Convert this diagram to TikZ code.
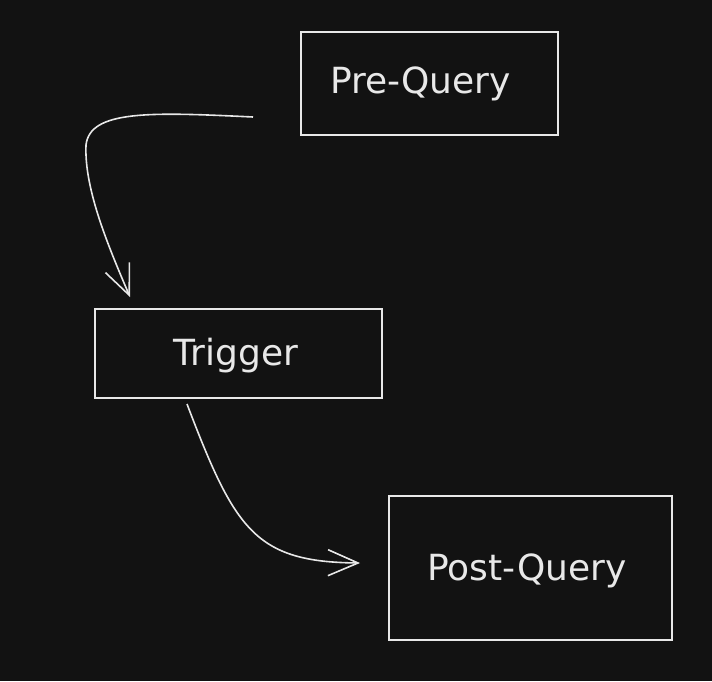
\documentclass[tikz,border=0pt]{standalone}
\usepackage{fontspec}
\newfontfamily\handfont{DejaVu Sans}
\usetikzlibrary{arrows.meta}
\definecolor{bg}{HTML}{121212}
\definecolor{ink}{HTML}{E8E8E8}
\tikzset{
  box/.style={draw=ink, line width=1.7pt, rectangle, inner sep=0pt},
  lbl/.style={text=ink, font=\handfont\fontsize{36}{42}\selectfont, anchor=base, inner sep=0pt},
  conn/.style={draw=ink, line width=1.6pt, -{Straight Barb[length=30pt,width=26pt,line width=1.6pt]}}
}
\begin{document}
\begin{tikzpicture}[x=1pt,y=-1pt]
\fill[bg] (0,0) rectangle (712,681);
\useasboundingbox (0,0) rectangle (712,681);
% boxes
\node[box, minimum width=257pt, minimum height=103pt] (pre) at (429.5,83.5) {};
\node[box, minimum width=287pt, minimum height=89pt] (trig) at (238.5,353.5) {};
\node[box, minimum width=283pt, minimum height=144pt] (post) at (530.5,568) {};
% labels
\node[lbl] (preT) at (420.5,93.5) {Pre-Query};
\node[lbl] (trigT) at (236,365.5) {Trigger};
\node[lbl] (postT) at (527,580.5) {Post-Query};
% connector end points
\coordinate (a1s) at (253,117);
\coordinate (a1e) at (130,297);
\coordinate (a2s) at (187,404);
\coordinate (a2e) at (360,563);
\draw[conn] (a1s) .. controls (150,112) and (90,110) .. (86,145)
  .. controls (84,190) and (110,250) .. (a1e);
\draw[conn] (a2s) .. controls (235,530) and (255,562) .. (a2e);
\end{tikzpicture}
\end{document}
